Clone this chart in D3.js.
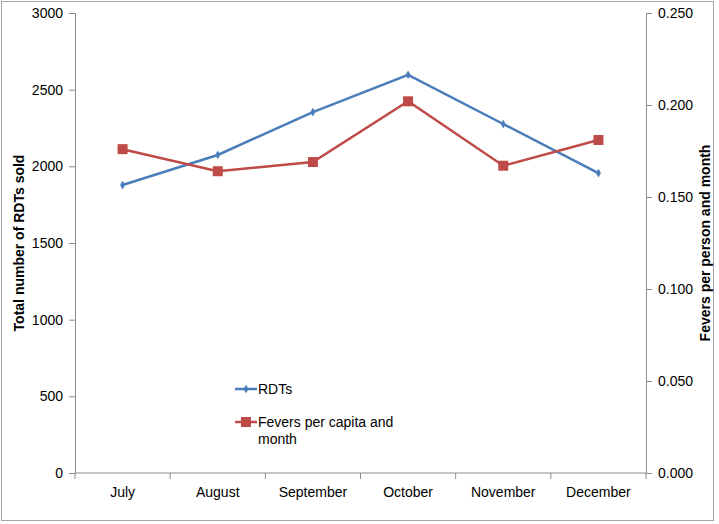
<!DOCTYPE html>
<html>
<head>
<meta charset="utf-8">
<script src="https://cdn.jsdelivr.net/npm/d3@7"></script>
<style>
  body { margin: 0; background: #fff; }
  text { font-family: "Liberation Sans", Arial, sans-serif; }
</style>
</head>
<body>
<div id="chart"></div>
<script>
// data
var months = ["July", "August", "September", "October", "November", "December"];
var rdts = [1878, 2074, 2354, 2597, 2276, 1956];
var fevers = [0.176, 0.164, 0.169, 0.202, 0.167, 0.181];
var leftTicks = [0, 500, 1000, 1500, 2000, 2500, 3000];
var rightTicks = [0, 0.05, 0.1, 0.15, 0.2, 0.25];

var svgWidth = 719;
var svgHeight = 524;
var margin = { top: 13, right: 73, bottom: 51, left: 75 };
var width = svgWidth - margin.left - margin.right;
var height = svgHeight - margin.top - margin.bottom;

var svg = d3.select("#chart")
    .append("svg")
    .attr("width", svgWidth)
    .attr("height", svgHeight);

// outer frame
svg.append("rect")
    .attr("x", 1.5).attr("y", 1.5)
    .attr("width", 712).attr("height", 519)
    .attr("fill", "none")
    .attr("stroke", "#a6a6a6");

var g = svg.append("g")
    .attr("transform", `translate(${margin.left}, ${margin.top})`);

var x = d3.scaleBand().domain(months).range([0, width]);
var yLeft = d3.scaleLinear().domain([0, 3000]).range([height, 0]);
var yRight = d3.scaleLinear().domain([0, 0.25]).range([height, 0]);

function styleAxis(sel) {
    sel.selectAll("path, line").attr("stroke", "#8c8c8c");
    sel.selectAll("text").attr("fill", "#000").style("font-size", "14px");
}

g.append("g")
    .call(d3.axisLeft(yLeft).tickValues(leftTicks).tickFormat(d3.format("d")).tickSize(6).tickSizeOuter(6).tickPadding(6))
    .call(styleAxis);

g.append("g")
    .attr("transform", `translate(${width}, 0)`)
    .call(d3.axisRight(yRight).tickValues(rightTicks).tickFormat(d3.format(".3f")).tickSize(6).tickSizeOuter(6).tickPadding(6))
    .call(styleAxis);

// x axis: ticks on band boundaries
var xAxis = g.append("g").attr("transform", `translate(0, ${height})`);
xAxis.append("line")
    .attr("x1", 0).attr("x2", width)
    .attr("stroke", "#8c8c8c");
xAxis.selectAll(".tk")
    .data(d3.range(months.length + 1))
    .enter().append("line")
    .attr("x1", d => d * x.bandwidth())
    .attr("x2", d => d * x.bandwidth())
    .attr("y1", 0).attr("y2", 6)
    .attr("stroke", "#8c8c8c");
xAxis.selectAll(".lbl")
    .data(months)
    .enter().append("text")
    .attr("x", d => x(d) + x.bandwidth() / 2)
    .attr("y", 24)
    .attr("text-anchor", "middle")
    .style("font-size", "14px")
    .text(d => d);

var cx = d => x(d) + x.bandwidth() / 2;

// RDTs line
g.append("path")
    .datum(months)
    .attr("fill", "none")
    .attr("stroke", "#4a7ebb")
    .attr("stroke-width", 2.5)
    .attr("d", d3.line().x(cx).y((d, i) => yLeft(rdts[i])));

g.selectAll(".rdt")
    .data(months)
    .enter().append("path")
    .attr("transform", (d, i) => `translate(${cx(d)}, ${yLeft(rdts[i])})`)
    .attr("d", d3.symbol(d3.symbolDiamond, 22))
    .attr("fill", "#4a7ebb");

// fevers line
g.append("path")
    .datum(months)
    .attr("fill", "none")
    .attr("stroke", "#be4b48")
    .attr("stroke-width", 2.5)
    .attr("d", d3.line().x(cx).y((d, i) => yRight(fevers[i])));

g.selectAll(".fev")
    .data(months)
    .enter().append("rect")
    .attr("x", d => cx(d) - 5)
    .attr("y", (d, i) => yRight(fevers[i]) - 5)
    .attr("width", 10).attr("height", 10)
    .attr("fill", "#be4b48");

// axis titles
svg.append("text")
    .attr("transform", "translate(24, 243) rotate(-90)")
    .attr("text-anchor", "middle")
    .style("font-size", "14px")
    .style("font-weight", "bold")
    .text("Total number of RDTs sold");

svg.append("text")
    .attr("transform", "translate(710, 243) rotate(-90)")
    .attr("text-anchor", "middle")
    .style("font-size", "14px")
    .style("font-weight", "bold")
    .text("Fevers per person and month");

// legend
var legend = svg.append("g");
legend.append("line")
    .attr("x1", 235).attr("x2", 257).attr("y1", 389).attr("y2", 389)
    .attr("stroke", "#4a7ebb").attr("stroke-width", 2.5);
legend.append("path")
    .attr("transform", "translate(246, 389)")
    .attr("d", d3.symbol(d3.symbolDiamond, 22))
    .attr("fill", "#4a7ebb");
legend.append("text")
    .attr("x", 258).attr("y", 394)
    .style("font-size", "14px")
    .text("RDTs");

legend.append("line")
    .attr("x1", 235).attr("x2", 257).attr("y1", 422).attr("y2", 422)
    .attr("stroke", "#be4b48").attr("stroke-width", 2.5);
legend.append("rect")
    .attr("x", 241).attr("y", 417).attr("width", 10).attr("height", 10)
    .attr("fill", "#be4b48");
legend.append("text")
    .attr("x", 258).attr("y", 427)
    .style("font-size", "14px")
    .text("Fevers per capita and");
legend.append("text")
    .attr("x", 258).attr("y", 444)
    .style("font-size", "14px")
    .text("month");
</script>
</body>
</html>
